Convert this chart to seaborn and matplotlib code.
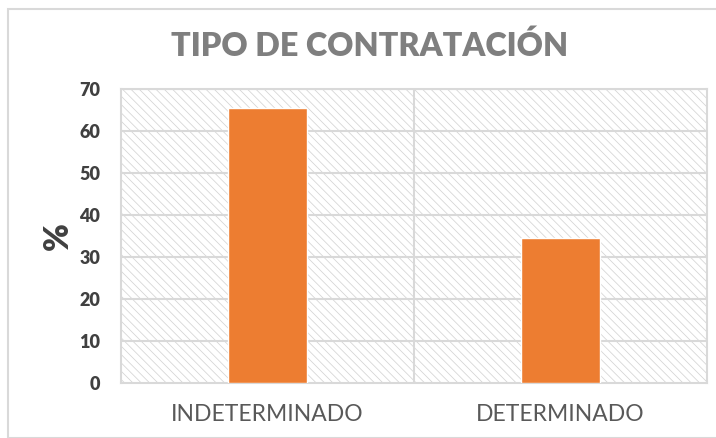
import matplotlib
matplotlib.use("Agg")
import matplotlib.pyplot as plt
import seaborn as sns
import pandas as pd
from matplotlib.patches import Rectangle

# Datos
categorias = ["INDETERMINADO", "DETERMINADO"]
porcentajes = [65.5, 34.5]

df = pd.DataFrame({"tipo": categorias, "pct": porcentajes})

sns.set_theme(style="white")
plt.rcParams["font.family"] = ["Lato", "DejaVu Sans"]
plt.rcParams["hatch.linewidth"] = 0.55

fig = plt.figure(figsize=(7.16, 4.38), dpi=100)
ax = fig.add_axes([121 / 716, 1 - 383 / 438, (707 - 121) / 716, (383 - 89) / 438])

# fondo rayado
ax.add_patch(Rectangle((0, 0), 1, 1, transform=ax.transAxes, facecolor="white",
                       edgecolor="#d3d3d3", hatch="\\\\\\\\", linewidth=0, zorder=0))

sns.barplot(data=df, x="tipo", y="pct", color="#ed7d31", width=0.27,
            saturation=1, ax=ax, zorder=3)

ax.set_ylim(0, 70)
ax.set_xlim(-0.5, 1.5)
ax.set_yticks(range(0, 71, 10))
for y in range(10, 71, 10):
    ax.axhline(y, color="#d9d9d9", lw=1.5, zorder=1)
ax.axvline(0.5, color="#d9d9d9", lw=1.5, zorder=1)

for s in ax.spines.values():
    s.set_color("#d9d9d9")
    s.set_linewidth(1.5)

ax.tick_params(axis="y", labelsize=13, labelcolor="#404040", length=0, pad=15)
ax.tick_params(axis="x", labelsize=16.5, labelcolor="#595959", length=0, pad=15)
for lab in ax.get_yticklabels():
    lab.set_fontweight("heavy")

ax.set_xlabel("")
ax.set_ylabel("%", fontsize=24, fontweight="heavy", color="#404040", labelpad=4)

fig.text(370 / 716, 0.895, "TIPO DE CONTRATACIÓN", ha="center", va="center",
         fontsize=23.3, fontweight="heavy", color="#7f7f7f")

# borde del gráfico
fig.add_artist(Rectangle((8 / 716, 0), 1, 1 - 9 / 438, transform=fig.transFigure,
                         fill=False, edgecolor="#d9d9d9", linewidth=1.5))

fig.savefig("out.png", dpi=100)
